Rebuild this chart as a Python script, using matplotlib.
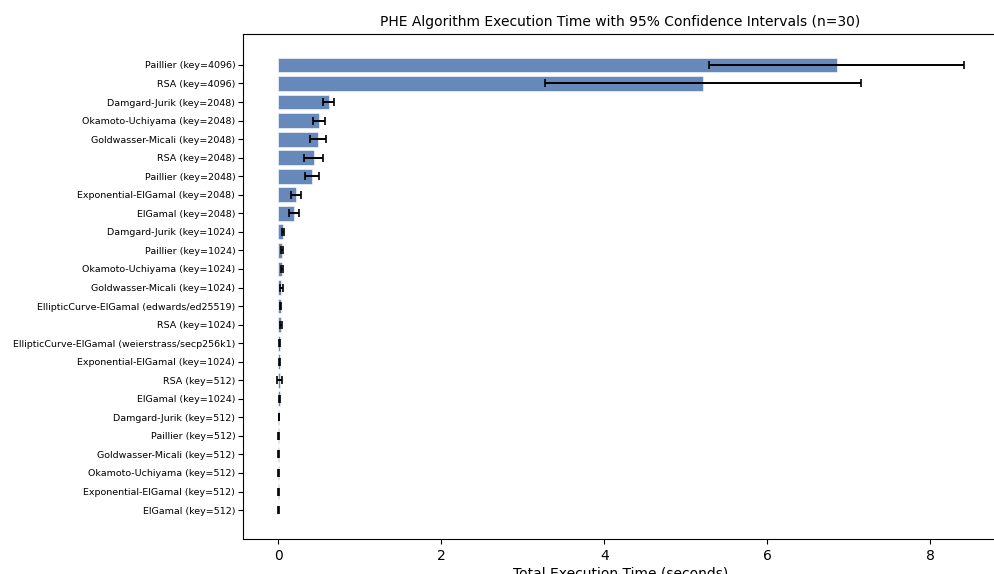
import matplotlib
matplotlib.use("Agg")
import matplotlib.pyplot as plt

# Algorithms, listed top to bottom as in the chart
labels = [
    "Paillier (key=4096)",
    "RSA (key=4096)",
    "Damgard-Jurik (key=2048)",
    "Okamoto-Uchiyama (key=2048)",
    "Goldwasser-Micali (key=2048)",
    "RSA (key=2048)",
    "Paillier (key=2048)",
    "Exponential-ElGamal (key=2048)",
    "ElGamal (key=2048)",
    "Damgard-Jurik (key=1024)",
    "Paillier (key=1024)",
    "Okamoto-Uchiyama (key=1024)",
    "Goldwasser-Micali (key=1024)",
    "EllipticCurve-ElGamal (edwards/ed25519)",
    "RSA (key=1024)",
    "EllipticCurve-ElGamal (weierstrass/secp256k1)",
    "Exponential-ElGamal (key=1024)",
    "RSA (key=512)",
    "ElGamal (key=1024)",
    "Damgard-Jurik (key=512)",
    "Paillier (key=512)",
    "Goldwasser-Micali (key=512)",
    "Okamoto-Uchiyama (key=512)",
    "Exponential-ElGamal (key=512)",
    "ElGamal (key=512)",
]
mean_time = [6.85, 5.21, 0.62, 0.50, 0.49, 0.44, 0.42, 0.22, 0.19,
             0.065, 0.05, 0.048, 0.039, 0.035, 0.04, 0.02, 0.02, 0.018,
             0.022, 0.01, 0.008, 0.007, 0.007, 0.006, 0.005]
ci95 = [1.56, 1.94, 0.07, 0.077, 0.10, 0.117, 0.084, 0.063, 0.061,
        0.012, 0.01, 0.008, 0.018, 0.005, 0.012, 0.005, 0.006, 0.035,
        0.005, 0.004, 0.004, 0.004, 0.004, 0.003, 0.003]

bar_color = '#6788bb'

fig = plt.figure(figsize=(9.95, 5.74), dpi=100)
ax = fig.add_axes([0.2442, 0.061, 0.759, 0.8798])

n = len(labels)
ypos = [n - 1 - i for i in range(n)]

ax.barh(ypos, mean_time, height=0.8, color=bar_color, edgecolor='white',
        linewidth=0.4)
ax.errorbar(mean_time, ypos, xerr=ci95, fmt='none', ecolor='black',
            elinewidth=1.4, capsize=3, capthick=1.2)

ax.set_yticks(ypos)
ax.set_yticklabels(labels, fontsize=6.8)
ax.tick_params(axis='y', pad=2)
ax.tick_params(axis='x', labelsize=10)
ax.set_xlim(-0.43, 8.83)
ax.set_ylim(-1.56, n - 1 + 1.67)
ax.set_xticks([0, 2, 4, 6, 8])

ax.set_xlabel('Total Execution Time (seconds)', fontsize=10, labelpad=3)
ax.set_title('PHE Algorithm Execution Time with 95% Confidence Intervals (n=30)',
             fontsize=10)

fig.savefig('out.png', dpi=100, facecolor='white')
